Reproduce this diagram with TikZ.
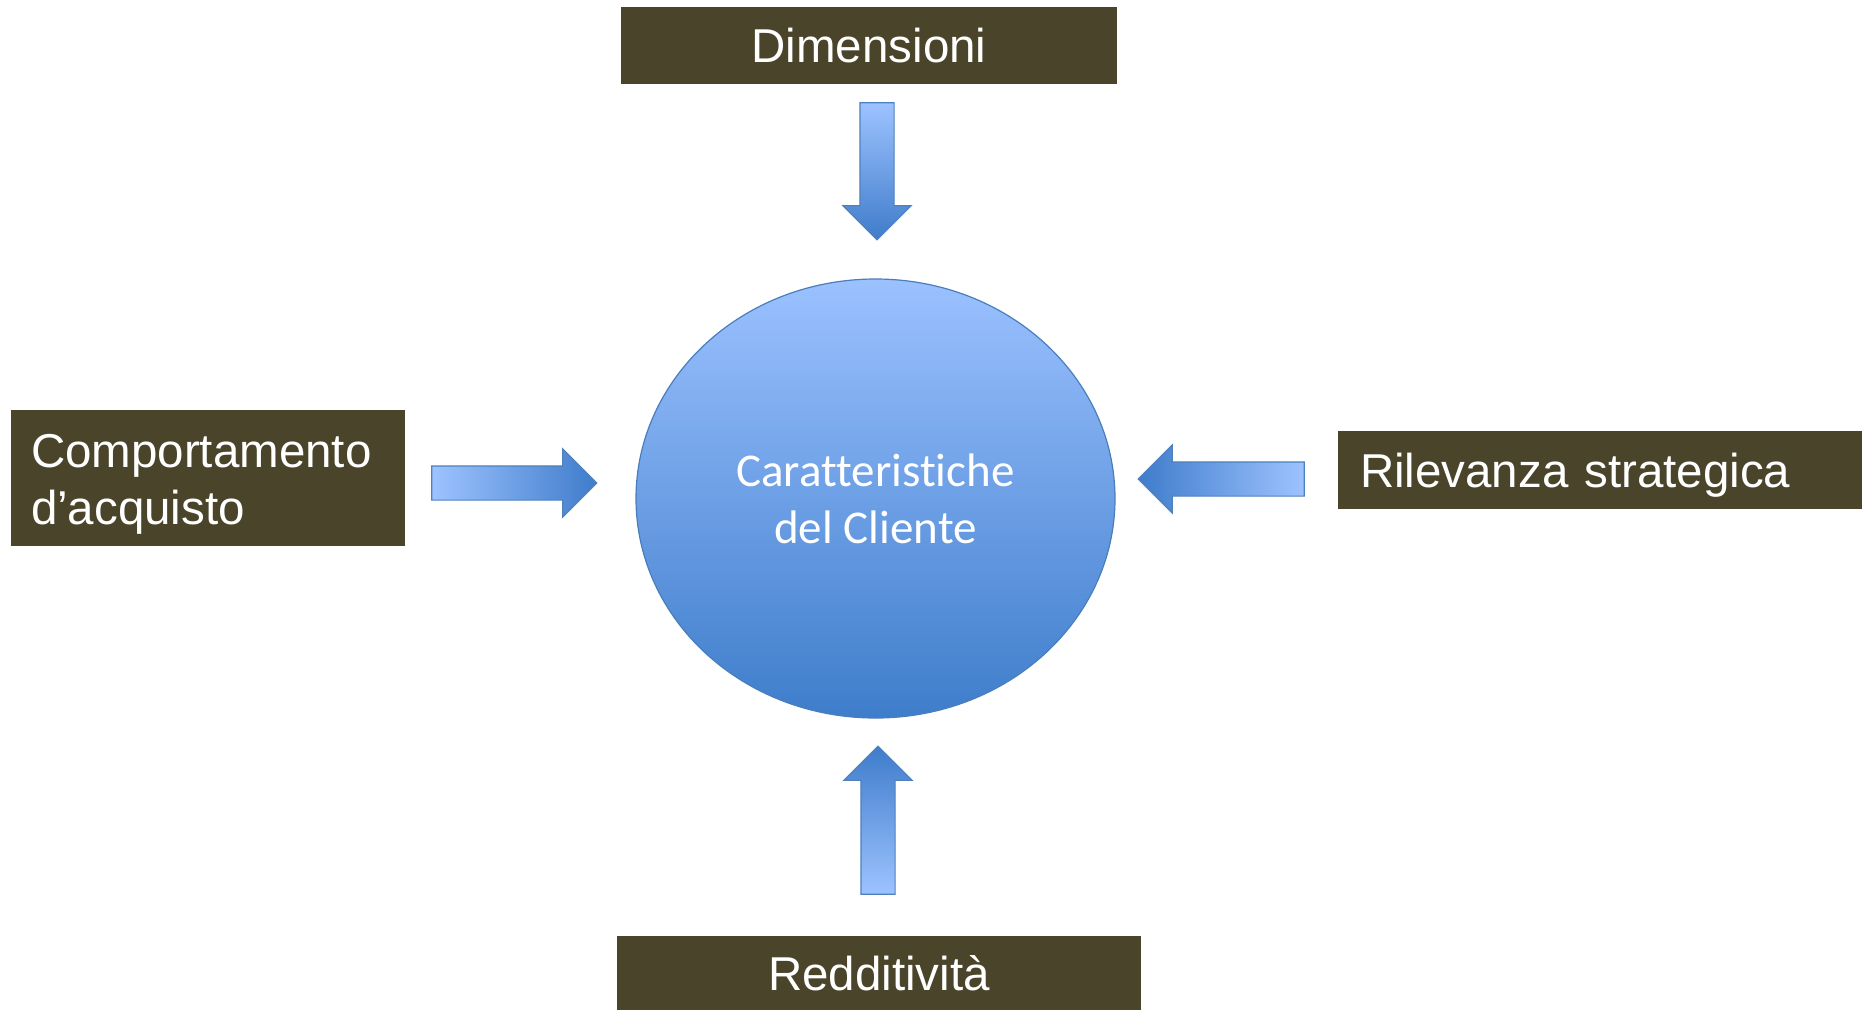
\documentclass[tikz,border=0pt]{standalone}
\usepackage{fontspec}
\setmainfont{Liberation Sans}
\newfontfamily\calibrifont{Carlito}[Ligatures={NoCommon}]
\usetikzlibrary{shapes.geometric,shapes.arrows,calc}
\definecolor{boxbrown}{RGB}{74,69,42}
\definecolor{arrowlight}{RGB}{157,195,255}
\definecolor{arrowdark}{RGB}{63,124,203}
\definecolor{arrowline}{RGB}{79,129,189}
\definecolor{circlight}{RGB}{155,193,255}
\definecolor{circdark}{RGB}{62,125,203}
\definecolor{circline}{RGB}{74,126,187}
\newcommand{\boxfont}{\fontsize{47.5}{57}\selectfont}
\tikzset{
  labelbox/.style={fill=boxbrown,text=white,font=\boxfont,inner sep=0pt},
  blockarrow/.style={single arrow,draw=arrowline,line width=1.2pt,
    single arrow head extend=17pt,single arrow tip angle=90,
    inner xsep=0pt,inner ysep=16.5pt,minimum width=0pt,anchor=tail}
}

\begin{document}
\begin{tikzpicture}[x=1pt,y=-1pt]
\useasboundingbox (0,0) rectangle (1862,1010);
\node[ellipse,draw=circline,line width=1.2pt,top color=circlight,bottom color=circdark,
  minimum width=479pt,minimum height=439pt,text=white,align=center,
  font=\calibrifont\fontsize{47}{57}\selectfont] (car) at (875.5,498.5) {Caratteristiche\\del Cliente};
\node[labelbox,minimum width=496pt,minimum height=77pt] (dim) at (869,45.5) {Dimensioni};
\node[labelbox,text width=354pt,inner xsep=20pt,minimum height=136pt,align=left] (comp) at (208,478) {\rule{0pt}{46pt}Comportamento\\d’acquisto};
\node[labelbox,text width=480pt,inner xsep=22pt,minimum height=78pt,text depth=0pt,align=left] (ril) at (1600,470) {Rilevanza strategica};
\node[labelbox,minimum width=524pt,minimum height=74pt] (red) at (879,973) {Redditività};

\node[blockarrow,rotate=-90,minimum height=137pt,top color=arrowlight,bottom color=arrowdark] (aDim) at ($(dim.south)+(8,18)$) {};
\node[blockarrow,minimum height=165pt,left color=arrowlight,right color=arrowdark] (aComp) at ($(comp.east)+(26,5)$) {};
\node[blockarrow,rotate=180,minimum height=166pt,left color=arrowdark,right color=arrowlight] (aRil) at ($(ril.west)+(-33,9)$) {};
\node[blockarrow,rotate=90,minimum height=148pt,top color=arrowdark,bottom color=arrowlight] (aRed) at ($(red.north)+(-1,-41)$) {};
\end{tikzpicture}
\end{document}
